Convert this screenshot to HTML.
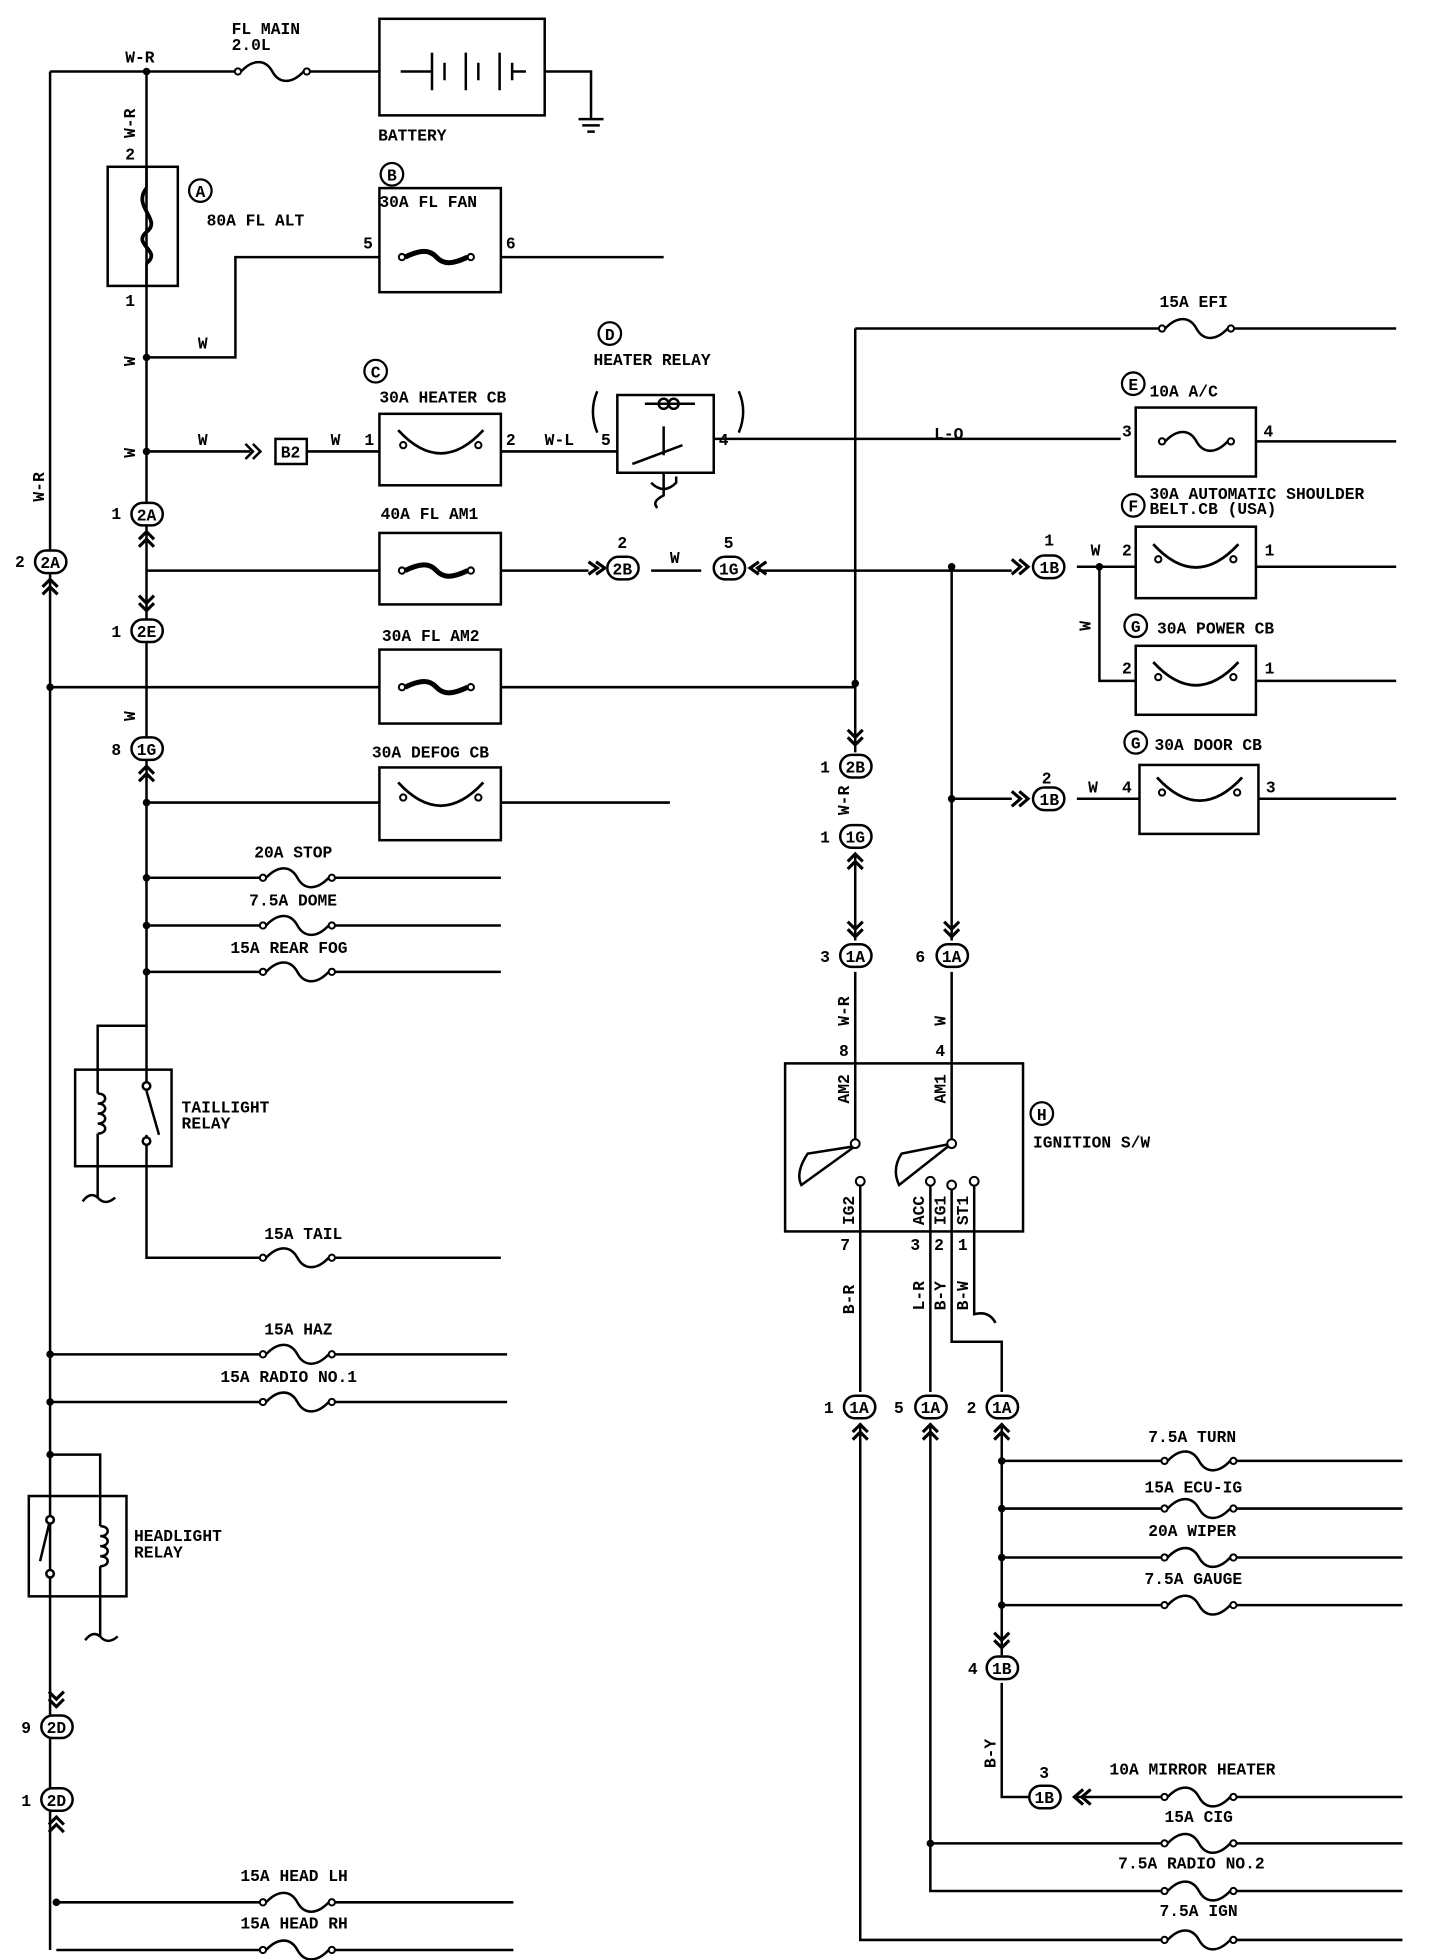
<!DOCTYPE html>
<html><head><meta charset="utf-8">
<style>
html,body{margin:0;padding:0;background:#fff;}
svg{display:block;}
text{font-family:"Liberation Mono",monospace;font-weight:bold;font-size:13px;fill:#000;}
.s{font-size:12px;}
</style></head><body>
<svg width="1440" height="1960" viewBox="0 0 1150 1563" preserveAspectRatio="none" xmlns="http://www.w3.org/2000/svg">
<defs>
<g id="fz"><circle cx="0" cy="0" r="2.5" fill="#fff" stroke="#000" stroke-width="1.6"/><circle cx="55" cy="0" r="2.5" fill="#fff" stroke="#000" stroke-width="1.6"/><path d="M2.5 0 C12 -10 22 -10 27.5 0 C33 10 43 10 52.5 0" fill="none" stroke="#000" stroke-width="2"/></g>
<g id="fzb"><circle cx="0" cy="0" r="2.5" fill="#fff" stroke="#000" stroke-width="1.6"/><circle cx="55" cy="0" r="2.5" fill="#fff" stroke="#000" stroke-width="1.6"/><path d="M2.5 0 C15 -6 22 -6 27.5 0 C33 6 40 6 52.5 0" fill="none" stroke="#000" stroke-width="4"/></g>
<g id="cb"><circle cx="0" cy="0" r="2.5" fill="#fff" stroke="#000" stroke-width="1.6"/><circle cx="60" cy="0" r="2.5" fill="#fff" stroke="#000" stroke-width="1.6"/><path d="M-4 -12 Q30 25 64 -12" fill="none" stroke="#000" stroke-width="2.2"/></g>
<g id="coil"><path d="M0 0 C8 0 8 8 0 8 C8 8 8 16 0 16 C8 16 8 24 0 24 C8 24 8 32 0 32" fill="none" stroke="#000" stroke-width="2"/></g>
</defs>
<g stroke="#000" stroke-width="2" fill="none">
<path d="M40 57 H190 M245 57 H303 M435 57 H472 V95 M462 95 H482 M465 100 H479 M469 105 H475"/>
<rect x="303" y="15" width="132" height="77"/>
<path d="M320 57 H345 M345 42 V72 M355 50 V64 M372 42 V72 M382 50 V64 M399 42 V72 M409 50 V64 M409 57 H420"/>
<path d="M40 57 V1555"/>
<path d="M117 57 V866 M117 930 V1003 H210 M265 1003 H400"/>
<rect x="86" y="133" width="56" height="95"/>
<path d="M117 133 V150 M117 210 V228" />
<path d="M117 150 C105 165 130 175 117 185 C105 195 130 200 117 210" stroke-width="3"/>
<path d="M117 285 H188 V205 H303 M400 205 H530"/>
<rect x="303" y="150" width="97" height="83"/>
<path d="M117 360 H200 M245 360 H303 M400 360 H493 M570 350 H895 M1003 352 H1115"/>
<rect x="220" y="350" width="25" height="20"/>
<path d="M196 354 L202 360 L196 366 M202 354 L208 360 L202 366"/>
<rect x="303" y="330" width="97" height="57"/>
<rect x="493" y="315" width="77" height="62"/>
<path d="M477 312 Q470 328 477 345 M590 312 Q597 328 590 345"/>
<path d="M515 322 H555"/>
<circle cx="530" cy="322" r="4"/><circle cx="538" cy="322" r="4"/>
<path d="M505 370 L545 355 M530 363 V340 M520 385 Q530 395 540 385 V380 M530 377 V395 Q520 400 525 405"/>
<rect x="907" y="325" width="96" height="55"/>
<path d="M117 455 H303 M400 455 H470 M520 455 H560 M605 455 H808 M860 452 H907 M1003 452 H1115"/>
<rect x="303" y="425" width="97" height="57"/>
<rect x="907" y="420" width="96" height="57"/>
<path d="M878 452 V543 H907 M1003 543 H1115"/>
<rect x="907" y="515" width="96" height="55"/>
<path d="M40 548 H303 M400 548 H683"/>
<rect x="303" y="518" width="97" height="59"/>
<path d="M683 262 H928 M985 262 H1115 M683 262 V600"/>
<path d="M760 452 V750 M760 637 H808 M860 637 H910 M1005 637 H1115"/>
<rect x="910" y="610" width="95" height="55"/>
<path d="M683 680 V750"/>
<path d="M117 640 H303 M400 640 H535"/>
<rect x="303" y="612" width="97" height="58"/>
<path d="M117 700 H210 M265 700 H400 M117 738 H210 M265 738 H400 M117 775 H210 M265 775 H400"/>
<rect x="60" y="853" width="77" height="77"/>
<path d="M117 818 H78 V872 M78 904 V955 M117 866 L117 870 M117 870 L127 905 M117 905 V930"/>
<circle cx="117" cy="866" r="3" fill="#fff"/><circle cx="117" cy="910" r="3" fill="#fff"/>
<path d="M66 958 Q72 950 78 955 Q84 962 92 955"/>
<path d="M40 1080 H210 M265 1080 H405 M40 1118 H210 M265 1118 H405"/>
<rect x="23" y="1193" width="78" height="80"/>
<path d="M40 1160 H80 V1217 M80 1249 V1305"/>
<path d="M40 1212 L32 1245"/><circle cx="40" cy="1212" r="3" fill="#fff"/><circle cx="40" cy="1255" r="3" fill="#fff"/>
<path d="M68 1308 Q74 1300 80 1305 Q86 1312 94 1305"/>
<path d="M45 1517 H210 M265 1517 H410 M45 1555 H210 M265 1555 H410"/>
<rect x="627" y="848" width="190" height="134"/>
<path d="M683 775 V912 M760 775 V912"/>
<path d="M683 914 L645 920 Q635 935 640 945 Z M760 912 L720 920 Q712 932 718 945 Z"/>
<path d="M687 946 V1110 M743 945 V1110 M760 945 V1070 H800 V1110 M778 945 V1048 Q790 1045 795 1055"/>
<path d="M800 1135 V1320 M800 1165 H930 M985 1165 H1120 M800 1203 H930 M985 1203 H1120 M800 1242 H930 M985 1242 H1120 M800 1280 H930 M985 1280 H1120"/>
<path d="M800 1342 V1433 H822 M860 1433 H930 M985 1433 H1120"/>
<path d="M743 1135 V1508 H930 M985 1508 H1120 M743 1470 H930 M985 1470 H1120"/>
<path d="M687 1135 V1547 H930 M985 1547 H1120"/>
</g>
<use href="#coil" x="78" y="872"/>
<use href="#coil" x="80" y="1217"/>
<g fill="#000">
<circle cx="117" cy="57" r="3"/><circle cx="117" cy="285" r="3"/><circle cx="117" cy="360" r="3"/><circle cx="40" cy="548" r="3"/><circle cx="683" cy="545" r="3"/><circle cx="760" cy="452" r="3"/><circle cx="760" cy="637" r="3"/><circle cx="878" cy="452" r="3"/>
<circle cx="117" cy="640" r="3"/><circle cx="117" cy="700" r="3"/><circle cx="117" cy="738" r="3"/><circle cx="117" cy="775" r="3"/><circle cx="40" cy="1080" r="3"/><circle cx="40" cy="1118" r="3"/><circle cx="40" cy="1160" r="3"/><circle cx="45" cy="1517" r="3"/>
<circle cx="800" cy="1165" r="3"/><circle cx="800" cy="1203" r="3"/><circle cx="800" cy="1242" r="3"/><circle cx="800" cy="1280" r="3"/><circle cx="743" cy="1470" r="3"/>
</g>
<use href="#fz" x="190" y="57"/>
<use href="#fzb" x="321" y="205"/>
<use href="#cb" x="322" y="355"/>
<use href="#fz" x="928" y="352"/>
<use href="#fzb" x="321" y="455"/>
<use href="#cb" x="925" y="446"/>
<use href="#cb" x="925" y="540"/>
<use href="#fzb" x="321" y="548"/>
<use href="#fz" x="928" y="262"/>
<use href="#cb" x="928" y="632"/>
<use href="#cb" x="322" y="636"/>
<use href="#fz" x="210" y="700"/><use href="#fz" x="210" y="738"/><use href="#fz" x="210" y="775"/>
<use href="#fz" x="210" y="1003"/><use href="#fz" x="210" y="1080"/><use href="#fz" x="210" y="1118"/>
<use href="#fz" x="210" y="1517"/><use href="#fz" x="210" y="1555"/>
<use href="#fz" x="930" y="1165"/><use href="#fz" x="930" y="1203"/><use href="#fz" x="930" y="1242"/><use href="#fz" x="930" y="1280"/>
<use href="#fz" x="930" y="1433"/><use href="#fz" x="930" y="1470"/><use href="#fz" x="930" y="1508"/><use href="#fz" x="930" y="1547"/>
<g fill="#fff" stroke="#000" stroke-width="1.6">
<circle cx="683" cy="912" r="3.5"/><circle cx="760" cy="912" r="3.5"/><circle cx="687" cy="942" r="3.5"/><circle cx="743" cy="942" r="3.5"/><circle cx="760" cy="945" r="3.5"/><circle cx="778" cy="942" r="3.5"/>
</g>
<g stroke="#000" stroke-width="2" fill="#fff">
<rect x="105" y="401" width="25" height="18" rx="9"/>
<rect x="28" y="439" width="25" height="18" rx="9"/>
<rect x="105" y="494" width="25" height="18" rx="9"/>
<rect x="105" y="588" width="25" height="18" rx="9"/>
<rect x="485" y="444" width="25" height="18" rx="9"/>
<rect x="570" y="444" width="25" height="18" rx="9"/>
<rect x="825" y="443" width="25" height="18" rx="9"/>
<rect x="825" y="628" width="25" height="18" rx="9"/>
<rect x="671" y="602" width="25" height="18" rx="9"/>
<rect x="671" y="658" width="25" height="18" rx="9"/>
<rect x="671" y="753" width="25" height="18" rx="9"/>
<rect x="748" y="753" width="25" height="18" rx="9"/>
<rect x="674" y="1113" width="25" height="18" rx="9"/>
<rect x="731" y="1113" width="25" height="18" rx="9"/>
<rect x="788" y="1113" width="25" height="18" rx="9"/>
<rect x="788" y="1321" width="25" height="18" rx="9"/>
<rect x="822" y="1424" width="25" height="18" rx="9"/>
<rect x="33" y="1368" width="25" height="18" rx="9"/>
<rect x="33" y="1426" width="25" height="18" rx="9"/>
</g>
<g class="s" text-anchor="middle">
<text x="117" y="415">2A</text><text x="40" y="453">2A</text><text x="117" y="508">2E</text><text x="117" y="602">1G</text>
<text x="497" y="458">2B</text><text x="582" y="458">1G</text><text x="838" y="457">1B</text><text x="838" y="642">1B</text>
<text x="683" y="616">2B</text><text x="683" y="672">1G</text><text x="683" y="767">1A</text><text x="760" y="767">1A</text>
<text x="686" y="1127">1A</text><text x="743" y="1127">1A</text><text x="800" y="1127">1A</text><text x="800" y="1335">1B</text><text x="834" y="1438">1B</text>
<text x="45" y="1382">2D</text><text x="45" y="1440">2D</text>
<text x="232" y="365" font-size="11">B2</text>
</g>
<g stroke="#000" stroke-width="2.5" fill="none">
<path d="M111 430 L117 424 L123 430 M111 436 L117 430 L123 436"/>
<path d="M34 468 L40 462 L46 468 M34 474 L40 468 L46 474"/>
<path d="M111 481 L117 487 L123 481 M111 475 L117 481 L123 475"/>
<path d="M111 617 L117 611 L123 617 M111 623 L117 617 L123 623"/>
<path d="M470 448 L477 453 L470 458 M476 448 L483 453 L476 458"/>
<path d="M612 448 L605 453 L612 458 M606 448 L599 453 L606 458"/>
<path d="M808 446 L815 452 L808 458 M814 446 L821 452 L814 458"/>
<path d="M808 631 L815 637 L808 643 M814 631 L821 637 L814 643"/>
<path d="M677 588 L683 594 L689 588 M677 582 L683 588 L689 582"/>
<path d="M677 687 L683 681 L689 687 M677 693 L683 687 L689 693"/>
<path d="M677 741 L683 747 L689 741 M677 735 L683 741 L689 735"/>
<path d="M754 741 L760 747 L766 741 M754 735 L760 741 L766 735"/>
<path d="M681 1142 L687 1136 L693 1142 M681 1148 L687 1142 L693 1148"/>
<path d="M737 1142 L743 1136 L749 1142 M737 1148 L743 1142 L749 1148"/>
<path d="M794 1142 L800 1136 L806 1142 M794 1148 L800 1142 L806 1148"/>
<path d="M794 1308 L800 1314 L806 1308 M794 1302 L800 1308 L806 1302"/>
<path d="M865 1427 L858 1433 L865 1439 M871 1427 L864 1433 L871 1439"/>
<path d="M39 1355 L45 1361 L51 1355 M39 1349 L45 1355 L51 1349"/>
<path d="M39 1455 L45 1449 L51 1455 M39 1461 L45 1455 L51 1461"/>
</g>
<g fill="none" stroke="#000" stroke-width="1.8">
<circle cx="160" cy="152" r="9"/><circle cx="313" cy="139" r="9"/><circle cx="300" cy="296" r="9"/><circle cx="487" cy="266" r="9"/>
<circle cx="905" cy="306" r="9"/><circle cx="905" cy="403" r="9"/><circle cx="907" cy="499" r="9"/><circle cx="907" cy="592" r="9"/><circle cx="832" cy="888" r="9"/>
</g>
<g class="s" text-anchor="middle">
<text x="160" y="157">A</text><text x="313" y="144">B</text><text x="300" y="301">C</text><text x="487" y="271">D</text>
<text x="905" y="311">E</text><text x="905" y="408">F</text><text x="907" y="504">G</text><text x="907" y="597">G</text><text x="832" y="893">H</text>
</g>
<text x="185" y="27">FL MAIN</text><text x="185" y="40">2.0L</text><text x="100" y="50">W-R</text>
<text x="302" y="112">BATTERY</text>
<text x="100" y="127">2</text><text x="100" y="244">1</text>
<text x="165" y="180">80A FL ALT</text>
<text x="303" y="165">30A FL FAN</text><text x="290" y="198">5</text><text x="404" y="198">6</text>
<text x="158" y="278">W</text>
<text x="303" y="321">30A HEATER CB</text>
<text x="474" y="291">HEATER RELAY</text>
<text x="158" y="355">W</text><text x="264" y="355">W</text><text x="291" y="355">1</text><text x="404" y="355">2</text>
<text x="435" y="355">W-L</text><text x="480" y="355">5</text><text x="574" y="355">4</text>
<text x="746" y="350">L-O</text>
<text x="926" y="245">15A EFI</text>
<text x="918" y="316">10A A/C</text><text x="896" y="348">3</text><text x="1009" y="348">4</text>
<text x="918" y="398">30A AUTOMATIC SHOULDER</text><text x="918" y="410">BELT.CB (USA)</text>
<text x="896" y="443">2</text><text x="1010" y="443">1</text><text x="871" y="443">W</text>
<text x="924" y="505">30A POWER CB</text><text x="896" y="537">2</text><text x="1010" y="537">1</text>
<text x="922" y="598">30A DOOR CB</text><text x="896" y="632">4</text><text x="1011" y="632">3</text><text x="869" y="632">W</text>
<text x="832" y="625">2</text>
<text x="304" y="414">40A FL AM1</text>
<text x="493" y="437">2</text><text x="535" y="449">W</text><text x="578" y="437">5</text><text x="834" y="435">1</text>
<text x="305" y="511">30A FL AM2</text>
<text x="297" y="604">30A DEFOG CB</text>
<text x="203" y="684">20A STOP</text><text x="199" y="722">7.5A DOME</text><text x="184" y="760">15A REAR FOG</text>
<text x="145" y="887">TAILLIGHT</text><text x="145" y="900">RELAY</text>
<text x="211" y="988">15A TAIL</text><text x="211" y="1064">15A HAZ</text><text x="176" y="1102">15A RADIO NO.1</text>
<text x="107" y="1229">HEADLIGHT</text><text x="107" y="1242">RELAY</text>
<text x="192" y="1500">15A HEAD LH</text><text x="192" y="1538">15A HEAD RH</text>
<text x="89" y="414">1</text><text x="12" y="452">2</text><text x="89" y="508">1</text><text x="89" y="602">8</text>
<text x="17" y="1382">9</text><text x="17" y="1440">1</text>
<text x="655" y="616">1</text><text x="655" y="672">1</text><text x="655" y="767">3</text><text x="731" y="767">6</text>
<text x="670" y="842">8</text><text x="747" y="842">4</text>
<text x="825" y="915">IGNITION S/W</text>
<text x="671" y="997">7</text><text x="727" y="997">3</text><text x="746" y="997">2</text><text x="765" y="997">1</text>
<text x="658" y="1127">1</text><text x="714" y="1127">5</text><text x="772" y="1127">2</text><text x="773" y="1335">4</text><text x="830" y="1418">3</text>
<text x="917" y="1150">7.5A TURN</text><text x="914" y="1190">15A ECU-IG</text><text x="917" y="1225">20A WIPER</text><text x="914" y="1263">7.5A GAUGE</text>
<text x="886" y="1415">10A MIRROR HEATER</text><text x="930" y="1453">15A CIG</text><text x="893" y="1490">7.5A RADIO NO.2</text><text x="926" y="1528">7.5A IGN</text>
<text transform="translate(108,110) rotate(-90)">W-R</text>
<text transform="translate(108,292) rotate(-90)">W</text>
<text transform="translate(108,365) rotate(-90)">W</text>
<text transform="translate(108,575) rotate(-90)">W</text>
<text transform="translate(35,400) rotate(-90)">W-R</text>
<text transform="translate(871,503) rotate(-90)">W</text>
<text transform="translate(678,650) rotate(-90)">W-R</text>
<text transform="translate(678,818) rotate(-90)">W-R</text>
<text transform="translate(755,818) rotate(-90)">W</text>
<text transform="translate(678,880) rotate(-90)">AM2</text>
<text transform="translate(755,880) rotate(-90)">AM1</text>
<text transform="translate(682,977) rotate(-90)">IG2</text>
<text transform="translate(738,977) rotate(-90)">ACC</text>
<text transform="translate(755,977) rotate(-90)">IG1</text>
<text transform="translate(773,977) rotate(-90)">ST1</text>
<text transform="translate(682,1048) rotate(-90)">B-R</text>
<text transform="translate(738,1045) rotate(-90)">L-R</text>
<text transform="translate(755,1045) rotate(-90)">B-Y</text>
<text transform="translate(773,1045) rotate(-90)">B-W</text>
<text transform="translate(795,1410) rotate(-90)">B-Y</text>
</svg>
</body></html>
